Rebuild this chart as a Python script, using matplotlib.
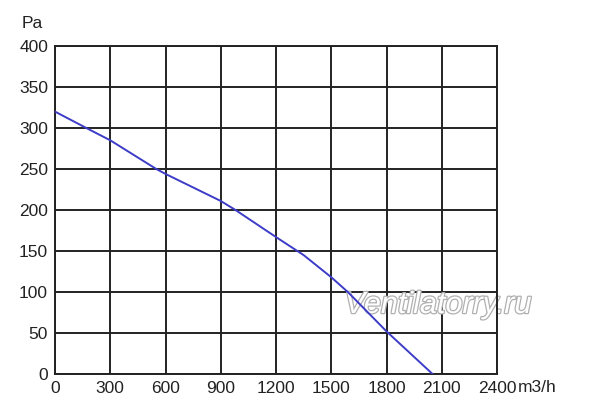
import matplotlib
matplotlib.use("Agg")
import matplotlib.pyplot as plt
import matplotlib.patheffects as pe

plt.rcParams['font.family'] = ['Liberation Sans', 'DejaVu Sans']

flow = [0, 170, 300, 550, 600, 900, 980, 1200, 1350, 1500, 1590, 1800, 2050]
pressure = [320, 300, 285, 250, 244, 211, 200, 167, 145, 118, 100, 52, 0]
x_ticks = [0, 300, 600, 900, 1200, 1500, 1800, 2100, 2400]
y_ticks = [0, 50, 100, 150, 200, 250, 300, 350, 400]

fig = plt.figure(figsize=(6.0, 4.12), dpi=100)
ax = fig.add_axes([55/600, 38/412, 442/600, 328/412])
ax.plot(flow, pressure, color='#3c3cc8', lw=1.4, zorder=3)
ax.set_xlim(0, 2400)
ax.set_ylim(0, 400)
ax.set_xticks(x_ticks)
ax.set_yticks(y_ticks)
ax.set_xticklabels([str(v) for v in x_ticks])
ax.set_yticklabels([str(v) for v in y_ticks])
ax.grid(True, color='#222222', lw=1.4)
for s in ax.spines.values():
    s.set_color('#222222')
    s.set_linewidth(1.4)
ax.tick_params(length=0, labelsize=12.5, colors='#222222', pad=5)
ax.set_axisbelow(True)

fig.text(32/600, 1 - 23/412, 'Pa', fontsize=12.5, color='#222222', ha='center', va='center')
fig.text(518/600, 1 - 388/412, 'm3/h', fontsize=12.5, color='#222222', ha='left', va='center')
wm = ax.text(438/600, 1 - 305/412, 'Ventilatorry.ru', fontsize=22, style='italic', color='white',
             ha='center', va='center', zorder=2.5, transform=fig.transFigure, clip_on=False,
             path_effects=[pe.withStroke(linewidth=1.8, foreground='#b0b0b0')])

fig.savefig('out.png', dpi=100)
